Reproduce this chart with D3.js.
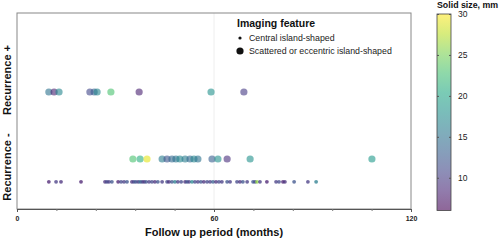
<!DOCTYPE html>
<html lang="en">
<head>
<meta charset="UTF-8">
<title>Follow up scatter</title>
<style>
  body { margin: 0; background: #fff; }
  text { font-family: "Liberation Sans", Arial, sans-serif; }
</style>
</head>
<body>
<svg id="chart"></svg>
<script src="https://d3js.org/d3.v7.min.js"></script>
<script>
// recurrence + (all scattered / eccentric)
const posMonths = [9.7, 11.3, 12.8, 22.2, 23.5, 24.4, 28.6, 37.2, 59.1, 69.1];
const posSize   = [15, 8, 17, 11, 13, 17, 23, 8, 18, 10];

// recurrence -, scattered or eccentric
const negBigMonths = [35.3, 37.5, 39.6, 44.2, 45.7, 47.2, 48.4, 49.6, 51.2, 52.7, 53.9, 55.1, 59.4, 61.2, 64.0, 71.0, 108.1];
const negBigSize   = [23, 21, 29, 16, 12, 14, 15, 17, 16, 14, 17, 15, 13, 18, 9, 18, 19];

// recurrence -, central island
const negSmallMonths = [9.7, 11.9, 13.4, 19.5,
  26.8, 27.4, 28.0, 28.9, 30.8, 31.7, 32.6, 33.5,
  35.0, 35.6, 36.2, 36.9, 37.5, 38.1, 38.7, 39.3, 40.2, 41.1, 42.0, 42.9, 44.2,
  45.7, 46.3, 47.2, 48.1, 49.0, 50.0,
  51.2, 51.8, 52.4, 53.3, 54.2, 55.1,
  56.0, 56.9, 57.9, 58.8, 59.7, 60.6, 61.5, 62.4,
  64.0, 64.9, 67.0, 67.9, 68.8, 70.1,
  71.9, 72.5, 73.1, 74.0, 76.1, 78.9, 79.8, 81.0, 81.6,
  84.4, 88.6, 91.1];
const negSmallSize = [8, 10, 9, 8,
  9, 11, 10, 12, 8, 11, 10, 12,
  9, 11, 12, 10, 14, 11, 9, 12, 10, 11, 9, 12, 10,
  11, 9, 12, 16, 10, 11,
  9, 12, 10, 17, 11, 10,
  12, 9, 11, 10, 13, 9, 11, 10,
  12, 10, 11, 9, 12, 10,
  12, 11, 26, 10, 8, 10, 11, 8, 9,
  12, 10, 16];

const xTicks = [0, 60, 120];
const xMinor = [12, 24, 36, 48, 72, 84, 96, 108];
const cbTicks = [10, 15, 20, 25, 30];

const W = 500, H = 241;
const svg = d3.select('#chart').attr('width', W).attr('height', H);

const plot = { left: 17, right: 411, top: 13, bottom: 209 };
const x = d3.scaleLinear().domain([0, 120]).range([plot.left, plot.right]);
// 1 = recurrence +, 0 = recurrence -
const y = d3.scaleLinear().domain([0, 1]).range([159, 92]);
const centralOffset = -0.34;

const cMin = 6, cMax = 30;
const alpha = 0.6;
const color = s => d3.interpolateViridis((s - cMin) / (cMax - cMin));

// gridline at 60
svg.append('line')
  .attr('x1', x(60)).attr('x2', x(60))
  .attr('y1', plot.top).attr('y2', plot.bottom)
  .attr('stroke', '#eeeeee').attr('stroke-width', 1);

// frame
svg.append('rect')
  .attr('x', plot.left).attr('y', plot.top)
  .attr('width', plot.right - plot.left).attr('height', plot.bottom - plot.top)
  .attr('fill', 'none').attr('stroke', '#888').attr('stroke-width', 1);

// x axis
const xAxis = d3.axisBottom(x).tickValues(xTicks).tickSize(3).tickPadding(4);
const gx = svg.append('g')
  .attr('transform', `translate(0,${plot.bottom})`)
  .call(xAxis);
gx.select('.domain').attr('stroke', '#555');
gx.selectAll('.tick line').attr('stroke', '#555');
gx.selectAll('text').attr('font-size', 7).attr('font-weight', 'bold').attr('fill', '#222');
svg.append('g')
  .attr('transform', `translate(0,${plot.bottom})`)
  .call(d3.axisBottom(x).tickValues(xMinor).tickSize(2).tickFormat(''))
  .call(g => g.select('.domain').remove())
  .selectAll('.tick line').attr('stroke', '#777');

svg.append('text')
  .attr('x', x(60)).attr('y', 236)
  .attr('text-anchor', 'middle')
  .attr('font-size', 11).attr('font-weight', 'bold').attr('fill', '#111')
  .text('Follow up period (months)');

// y labels
const yLabels = [{ t: 'Recurrence +', yy: 80 }, { t: 'Recurrence -', yy: 167 }];
svg.selectAll('.ylab').data(yLabels).join('text')
  .attr('class', 'ylab')
  .attr('transform', d => `translate(11,${d.yy}) rotate(-90)`)
  .attr('text-anchor', 'middle')
  .attr('font-size', 11).attr('font-weight', 'bold').attr('fill', '#111')
  .text(d => d.t);

// points
const points = [];
posMonths.forEach((m, i) => points.push({ m, s: posSize[i], r: 1, big: true }));
negBigMonths.forEach((m, i) => points.push({ m, s: negBigSize[i], r: 0, big: true }));
negSmallMonths.forEach((m, i) => points.push({ m, s: negSmallSize[i], r: 0, big: false }));

svg.append('g').selectAll('circle').data(points).join('circle')
  .attr('cx', d => x(d.m))
  .attr('cy', d => y(d.big ? d.r : d.r + centralOffset))
  .attr('r', d => d.big ? 3.6 : 1.9)
  .attr('fill', d => color(d.s))
  .attr('fill-opacity', d => d.big ? alpha : 0.75);

// legend
const lg = svg.append('g');
lg.append('text').attr('x', 237).attr('y', 27)
  .attr('font-size', 10.5).attr('font-weight', 'bold').attr('fill', '#111')
  .text('Imaging feature');
const legItems = [
  { t: 'Central island-shaped', r: 1.6, yy: 38 },
  { t: 'Scattered or eccentric island-shaped', r: 3.6, yy: 51 }
];
lg.selectAll('circle').data(legItems).join('circle')
  .attr('cx', 240).attr('cy', d => d.yy).attr('r', d => d.r).attr('fill', '#111');
lg.selectAll('.lt').data(legItems).join('text')
  .attr('class', 'lt')
  .attr('x', 249).attr('y', d => d.yy + 3)
  .attr('font-size', 8.8).attr('fill', '#222')
  .text(d => d.t);

// colorbar
const cb = { x: 437, w: 14 };
const cy = d3.scaleLinear().domain([cMin, cMax]).range([210.5, 14]);
const grad = svg.append('defs').append('linearGradient')
  .attr('id', 'cbgrad').attr('x1', 0).attr('x2', 0).attr('y1', 1).attr('y2', 0);
d3.range(0, 1.0001, 0.1).forEach(t => {
  grad.append('stop').attr('offset', t)
    .attr('stop-color', d3.interpolateViridis(t)).attr('stop-opacity', alpha);
});
svg.append('rect')
  .attr('x', cb.x).attr('y', cy(cMax))
  .attr('width', cb.w).attr('height', cy(cMin) - cy(cMax))
  .attr('fill', 'url(#cbgrad)')
  .attr('stroke', '#444').attr('stroke-width', 0.8);
const gcb = svg.append('g')
  .attr('transform', `translate(${cb.x + cb.w},0)`)
  .call(d3.axisRight(cy).tickValues(cbTicks).tickSize(-2).tickPadding(7));
gcb.select('.domain').remove();
gcb.selectAll('.tick line').attr('stroke', '#555');
gcb.selectAll('text').attr('font-size', 8.5).attr('fill', '#222');
svg.append('g')
  .attr('transform', `translate(${cb.x},0)`)
  .call(d3.axisRight(cy).tickValues(cbTicks).tickSize(2).tickFormat(''))
  .call(g => g.select('.domain').remove())
  .selectAll('.tick line').attr('stroke', '#555');

svg.append('text').attr('x', 437).attr('y', 8)
  .attr('font-size', 8.8).attr('font-weight', 'bold').attr('fill', '#111')
  .text('Solid size, mm');
</script>
</body>
</html>
